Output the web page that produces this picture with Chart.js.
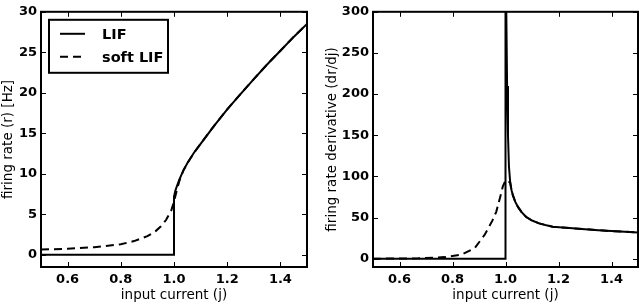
<!DOCTYPE html>
<html>
<head>
<meta charset="utf-8">
<script src="https://cdn.jsdelivr.net/npm/chart.js@4.4.1/dist/chart.umd.min.js"></script>
<style>
  html, body { margin: 0; padding: 0; background: #fff; }
  .panel { position: absolute; top: 0; width: 320px; height: 304px; }
  #leftPanel { left: 0; }
  #rightPanel { left: 320px; }
</style>
</head>
<body>
<div class="panel" id="leftPanel"><canvas id="rateChart" width="320" height="304"></canvas></div>
<div class="panel" id="rightPanel"><canvas id="derivChart" width="320" height="304"></canvas></div>
<script>
// Tick labels
const xTicks = [0.6, 0.8, 1.0, 1.2, 1.4];
const rateTicks = [0, 5, 10, 15, 20, 25, 30];
const derivTicks = [0, 50, 100, 150, 200, 250, 300];

// Left panel: firing rate
const lifRateX = [0.5, 1.0, 1.0, 1.005, 1.01, 1.02, 1.035, 1.05, 1.075, 1.1, 1.15, 1.2, 1.25, 1.3, 1.35, 1.4, 1.45, 1.5];
const lifRateY = [0, 0, 7.2, 7.9, 8.4, 9.3, 10.4, 11.3, 12.6, 13.7, 15.9, 17.95, 19.85, 21.7, 23.5, 25.2, 26.9, 28.5];
const softRateX = [0.5, 0.6, 0.7, 0.8, 0.85, 0.9, 0.93, 0.95, 0.97, 0.99, 1.0, 1.01, 1.02, 1.035, 1.05, 1.075, 1.1, 1.15, 1.2, 1.25, 1.3, 1.35, 1.4, 1.45, 1.5];
const softRateY = [0.65, 0.75, 0.95, 1.3, 1.7, 2.3, 2.9, 3.5, 4.3, 5.5, 6.6, 7.9, 9.1, 10.4, 11.3, 12.6, 13.7, 15.9, 17.95, 19.85, 21.7, 23.5, 25.2, 26.9, 28.5];

// Right panel: firing rate derivative
const lifDerivX = [0.5, 1.0, 1.0, 1.003, 1.006, 1.0094, 1.013, 1.018, 1.023, 1.028, 1.037, 1.047, 1.06, 1.077, 1.1, 1.127, 1.15, 1.178, 1.215, 1.253, 1.3, 1.35, 1.4, 1.45, 1.5];
const lifDerivY = [0, 0, 330, 300, 210, 150, 112, 92, 83, 77, 69, 63, 57, 51, 46.5, 43, 41, 39, 38, 37, 36, 34.7, 33.6, 32.8, 32];
const softDerivX = [0.5, 0.6, 0.67, 0.77, 0.833, 0.884, 0.921, 0.95, 0.965, 0.98, 0.99, 1.0, 1.01, 1.018, 1.023, 1.028, 1.037, 1.047, 1.06, 1.077, 1.1, 1.127, 1.15, 1.178, 1.215, 1.253, 1.3, 1.35, 1.4, 1.45, 1.5];
const softDerivY = [0.1, 0.3, 0.5, 2, 5, 13, 29, 46, 57, 75, 88, 95, 95, 92, 83, 77, 69, 63, 57, 51, 46.5, 43, 41, 39, 38, 37, 36, 34.7, 33.6, 32.8, 32];

const seriesLabels = ['LIF', 'soft LIF'];
const tickFont = { family: 'DejaVu Sans', size: 13, weight: 'bold' };
const titleFont = { family: 'DejaVu Sans', size: 13.5 };

function toPoints(xs, ys) {
  return xs.map((x, i) => ({ x: x, y: ys[i] }));
}

function lineDataset(label, xs, ys, dashed) {
  return {
    label: label,
    data: toPoints(xs, ys),
    showLine: true,
    borderColor: '#000',
    borderWidth: 2,
    borderDash: dashed ? [8, 5] : [],
    pointRadius: 0,
    tension: 0,
    fill: false
  };
}

// inward ticks on all four sides plus the heavy frame
const frameTicks = {
  id: 'frameTicks',
  afterDatasetsDraw(chart) {
    const { ctx, chartArea: a, scales } = chart;
    ctx.save();
    ctx.strokeStyle = '#000';
    ctx.lineWidth = 1;
    ctx.beginPath();
    scales.x.ticks.forEach(t => {
      const px = Math.round(scales.x.getPixelForValue(t.value)) + 0.5;
      ctx.moveTo(px, a.bottom); ctx.lineTo(px, a.bottom - 5);
      ctx.moveTo(px, a.top); ctx.lineTo(px, a.top + 5);
    });
    scales.y.ticks.forEach(t => {
      const py = Math.round(scales.y.getPixelForValue(t.value)) + 0.5;
      ctx.moveTo(a.left, py); ctx.lineTo(a.left + 5, py);
      ctx.moveTo(a.right, py); ctx.lineTo(a.right - 5, py);
    });
    ctx.stroke();
    ctx.lineWidth = 2;
    ctx.strokeRect(a.left, a.top, a.right - a.left, a.bottom - a.top);
    ctx.restore();
  }
};

// matplotlib-style boxed legend in the upper left corner
const boxLegend = {
  id: 'boxLegend',
  afterDraw(chart) {
    const { ctx, chartArea: a } = chart;
    const bx = a.left + 8, by = a.top + 8;
    ctx.save();
    ctx.fillStyle = '#fff';
    ctx.fillRect(bx, by, 119, 53);
    ctx.strokeStyle = '#000';
    ctx.lineWidth = 2;
    ctx.strokeRect(bx, by, 119, 53);
    ctx.font = 'bold 14.5px "DejaVu Sans"';
    ctx.textBaseline = 'middle';
    ctx.fillStyle = '#000';
    chart.data.datasets.forEach((ds, i) => {
      const ly = by + 14 + i * 23;
      ctx.setLineDash(ds.borderDash);
      ctx.beginPath();
      ctx.moveTo(bx + 11, ly);
      ctx.lineTo(bx + 36, ly);
      ctx.stroke();
      ctx.setLineDash([]);
      ctx.fillText(ds.label, bx + 53, ly + 1);
    });
    ctx.restore();
  }
};

function makeChart(canvas, cfg) {
  return new Chart(canvas, {
    type: 'scatter',
    data: { datasets: cfg.datasets },
    plugins: cfg.legend ? [frameTicks, boxLegend] : [frameTicks],
    options: {
      responsive: false,
      animation: false,
      layout: { padding: cfg.padding },
      plugins: { legend: { display: false }, tooltip: { enabled: false } },
      scales: {
        x: {
          type: 'linear',
          min: 0.5,
          max: 1.5,
          grid: { display: false, drawTicks: false },
          border: { display: false },
          afterBuildTicks: s => { s.ticks = xTicks.map(v => ({ value: v })); },
          afterFit: s => { s.height = 37; },
          ticks: {
            color: '#000',
            font: tickFont,
            padding: 5,
            maxRotation: 0,
            callback: v => Number(v).toFixed(1)
          },
          title: {
            display: true,
            text: 'input current (j)',
            color: '#000',
            font: titleFont,
            padding: { top: 0, bottom: 0 }
          }
        },
        y: {
          type: 'linear',
          min: cfg.yMin,
          max: cfg.yMax,
          grid: { display: false, drawTicks: false },
          border: { display: false },
          afterBuildTicks: s => { s.ticks = cfg.yTicks.map(v => ({ value: v })); },
          afterFit: s => { s.width = cfg.yWidth; },
          ticks: {
            color: '#000',
            font: tickFont,
            padding: 4,
            callback: v => String(v)
          },
          title: {
            display: true,
            text: cfg.yTitle,
            color: '#000',
            font: titleFont,
            padding: { top: cfg.yTitlePad, bottom: 0 }
          }
        }
      }
    }
  });
}

makeChart(document.getElementById('rateChart'), {
  datasets: [
    lineDataset(seriesLabels[0], lifRateX, lifRateY, false),
    lineDataset(seriesLabels[1], softRateX, softRateY, true)
  ],
  legend: true,
  padding: { left: 0, right: 13, top: 6, bottom: 0 },
  yMin: -1.5, yMax: 30, yTicks: rateTicks, yWidth: 41,
  yTitle: 'firing rate (r) [Hz]', yTitlePad: 0
});

makeChart(document.getElementById('derivChart'), {
  datasets: [
    lineDataset(seriesLabels[0], lifDerivX, lifDerivY, false),
    lineDataset(seriesLabels[1], softDerivX, softDerivY, true)
  ],
  legend: false,
  padding: { left: 0, right: 2, top: 5, bottom: 0 },
  yMin: -10, yMax: 300, yTicks: derivTicks, yWidth: 53,
  yTitle: 'firing rate derivative (dr/dj)', yTitlePad: 4
});
</script>
</body>
</html>
